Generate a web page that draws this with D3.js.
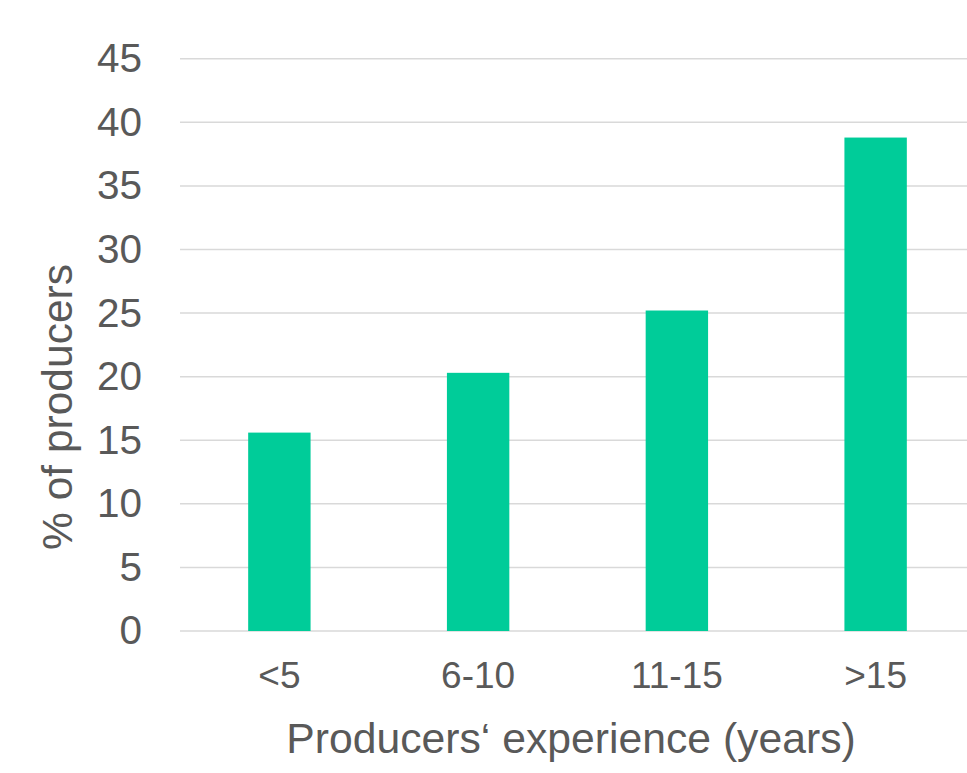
<!DOCTYPE html>
<html>
<head>
<meta charset="utf-8">
<script src="https://cdn.jsdelivr.net/npm/d3@7"></script>
<style>
  html, body { margin: 0; padding: 0; background: #ffffff; }
  svg { display: block; font-family: "Liberation Sans", Arial, sans-serif; }
</style>
</head>
<body>
<svg id="chart" width="967" height="773"></svg>
<script>
// Share of producers by years of experience
const categories = ["<5", "6-10", "11-15", ">15"];
const values = [15.6, 20.3, 25.2, 38.8];
const yTicks = [0, 5, 10, 15, 20, 25, 30, 35, 40, 45];
const xTitle = "Producers‘ experience (years)";
const yTitle = "% of producers";

const svg = d3.select("#chart");
const textColor = "#595959";
const gridColor = "#d9d9d9";
const barColor = "#00cc99";

const plot = { left: 180, right: 975, top: 58.7, bottom: 631 };

const x = d3.scaleBand().domain(categories).range([plot.left, plot.right]).padding(0);
const y = d3.scaleLinear().domain([0, 45]).range([plot.bottom, plot.top]);
const barW = x.bandwidth() * 0.314;

// gridlines
svg.append("g")
  .selectAll("line")
  .data(yTicks)
  .join("line")
  .attr("x1", plot.left)
  .attr("x2", 967)
  .attr("y1", d => y(d))
  .attr("y2", d => y(d))
  .attr("stroke", gridColor)
  .attr("stroke-width", 1.5);

// bars
svg.append("g")
  .selectAll("rect")
  .data(categories)
  .join("rect")
  .attr("x", (d) => x(d) + x.bandwidth() / 2 - barW / 2)
  .attr("width", barW)
  .attr("y", (d, i) => y(values[i]))
  .attr("height", (d, i) => y(0) - y(values[i]))
  .attr("fill", barColor);

// y axis labels
const yAxis = d3.axisLeft(y).tickValues(yTicks).tickSize(0).tickPadding(38);
svg.append("g")
  .attr("transform", `translate(${plot.left},0)`)
  .call(yAxis)
  .call(g => g.select(".domain").remove())
  .call(g => g.selectAll("text")
    .attr("fill", textColor)
    .style("font-size", "40.5px")
    .style("font-family", "'Liberation Sans', Arial, sans-serif"));

// x axis labels
const xAxis = d3.axisBottom(x).tickSize(0).tickPadding(0);
svg.append("g")
  .attr("transform", `translate(0,${plot.bottom})`)
  .call(xAxis)
  .call(g => g.select(".domain").remove())
  .call(g => g.selectAll("text")
    .attr("dy", null)
    .attr("y", 57)
    .attr("fill", textColor)
    .style("font-size", "37px")
    .style("font-family", "'Liberation Sans', Arial, sans-serif"));

// axis titles
svg.append("text")
  .attr("x", 571)
  .attr("y", 753)
  .attr("text-anchor", "middle")
  .attr("fill", textColor)
  .style("font-size", "42.7px")
  .text(xTitle);

svg.append("text")
  .attr("transform", "translate(72,407) rotate(-90)")
  .attr("text-anchor", "middle")
  .attr("fill", textColor)
  .style("font-size", "42.5px")
  .text(yTitle);
</script>
</body>
</html>
